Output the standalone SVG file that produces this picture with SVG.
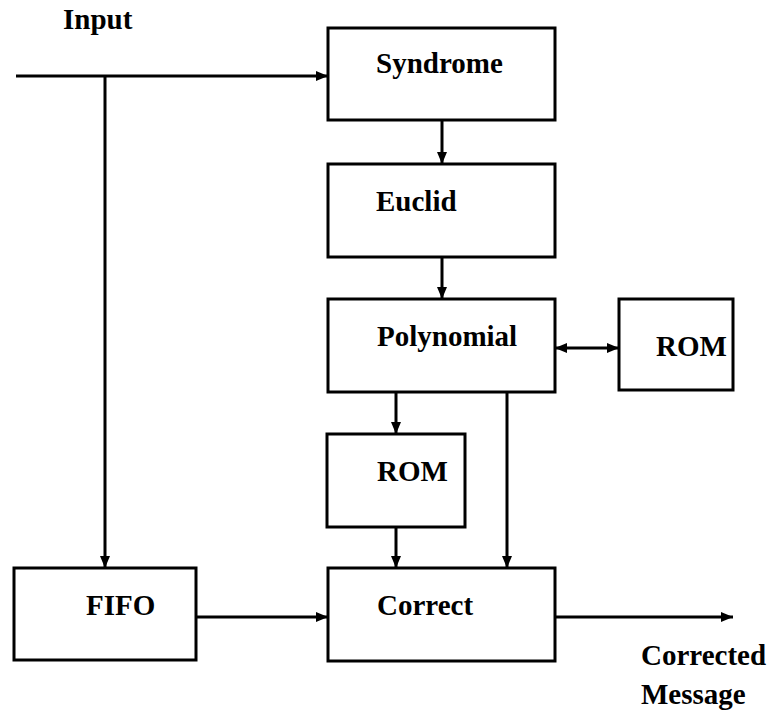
<svg xmlns="http://www.w3.org/2000/svg" width="773" height="711" viewBox="0 0 773 711">
  <style>
    .box { fill: #ffffff; stroke: #000000; stroke-width: 3; }
    .wire { fill: none; stroke: #000000; stroke-width: 3; }
    .lbl { font-family: "Liberation Serif", "DejaVu Serif", serif; font-weight: bold; font-size: 29px; fill: #000000; }
  </style>
  <defs>
    <marker id="head" viewBox="0 0 12 10" refX="12" refY="5" markerWidth="12" markerHeight="10" markerUnits="userSpaceOnUse" orient="auto">
      <path d="M0,0 L12,5 L0,10 Z" fill="#000000"/>
    </marker>
    <marker id="tail" viewBox="0 0 12 10" refX="0" refY="5" markerWidth="12" markerHeight="10" markerUnits="userSpaceOnUse" orient="auto">
      <path d="M12,0 L0,5 L12,10 Z" fill="#000000"/>
    </marker>
  </defs>

  <rect width="773" height="711" fill="#ffffff"/>

  <!-- connectors -->
  <g id="connectors">
    <line class="wire" x1="16" y1="76" x2="328" y2="76" marker-end="url(#head)"/>
    <line class="wire" x1="105" y1="76" x2="105" y2="568" marker-end="url(#head)"/>
    <line class="wire" x1="442" y1="120" x2="442" y2="164" marker-end="url(#head)"/>
    <line class="wire" x1="442" y1="257" x2="442" y2="299" marker-end="url(#head)"/>
    <line class="wire" x1="555" y1="348" x2="619" y2="348" marker-start="url(#tail)" marker-end="url(#head)"/>
    <line class="wire" x1="396" y1="392" x2="396" y2="434" marker-end="url(#head)"/>
    <line class="wire" x1="396" y1="527" x2="396" y2="568" marker-end="url(#head)"/>
    <line class="wire" x1="507" y1="392" x2="507" y2="568" marker-end="url(#head)"/>
    <line class="wire" x1="196" y1="617" x2="328" y2="617" marker-end="url(#head)"/>
    <line class="wire" x1="555" y1="617" x2="733" y2="617" marker-end="url(#head)"/>
  </g>

  <!-- free labels -->
  <text class="lbl" x="63" y="29">Input</text>
  <text class="lbl" x="641" y="665">Corrected</text>
  <text class="lbl" x="641" y="704">Message</text>

  <!-- blocks -->
  <g id="syndrome">
    <rect class="box" x="328" y="28" width="227" height="92"/>
    <text class="lbl" x="376" y="73">Syndrome</text>
  </g>
  <g id="euclid">
    <rect class="box" x="328" y="164" width="227" height="93"/>
    <text class="lbl" x="376" y="211">Euclid</text>
  </g>
  <g id="polynomial">
    <rect class="box" x="328" y="299" width="227" height="93"/>
    <text class="lbl" x="377" y="346">Polynomial</text>
  </g>
  <g id="rom-side">
    <rect class="box" x="619" y="299" width="114" height="91"/>
    <text class="lbl" x="656" y="356">ROM</text>
  </g>
  <g id="rom-lower">
    <rect class="box" x="327" y="434" width="138" height="93"/>
    <text class="lbl" x="377" y="481">ROM</text>
  </g>
  <g id="fifo">
    <rect class="box" x="14" y="568" width="182" height="92"/>
    <text class="lbl" x="86" y="615">FIFO</text>
  </g>
  <g id="correct">
    <rect class="box" x="328" y="568" width="227" height="93"/>
    <text class="lbl" x="377" y="615">Correct</text>
  </g>
</svg>
